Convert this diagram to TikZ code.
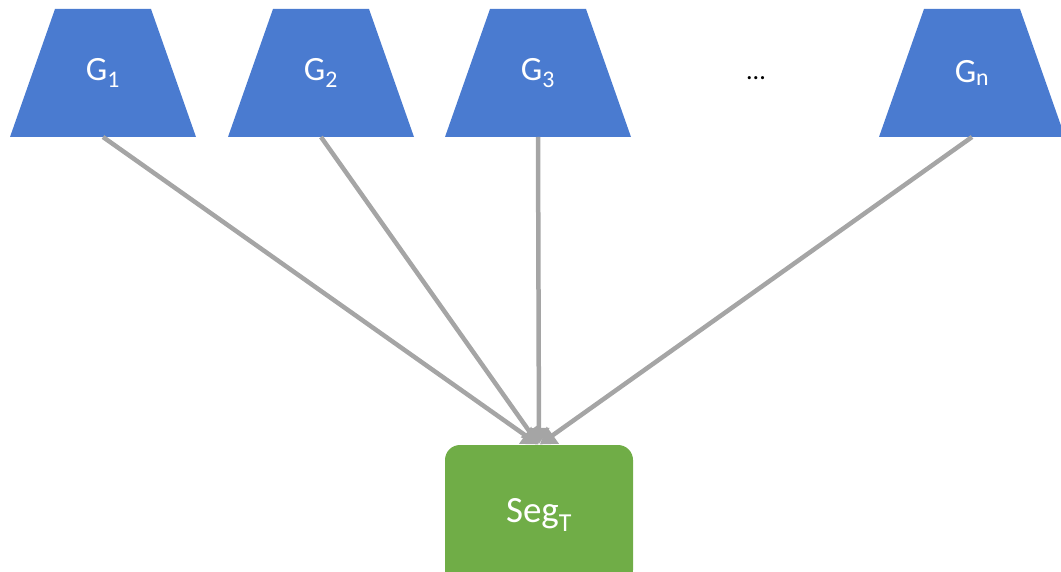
\documentclass[tikz,border=0pt]{standalone}
\usepackage{fontspec}
\setmainfont{Carlito}
\usetikzlibrary{arrows.meta}
\definecolor{genblue}{HTML}{4A7BD0}
\definecolor{seggreen}{HTML}{70AD47}
\definecolor{linkgray}{HTML}{A5A5A5}
\tikzset{
  gen/.style={rectangle, minimum width=186pt, minimum height=128pt,
    inner sep=0pt, outer sep=0pt, text=white,
    font=\fontsize{34}{40}\selectfont,
    path picture={\fill[genblue]
      (path picture bounding box.south west) --
      ([xshift=45pt]path picture bounding box.north west) --
      ([xshift=-45pt]path picture bounding box.north east) --
      (path picture bounding box.south east) -- cycle;}},
  segbox/.style={rectangle, rounded corners=15pt, fill=seggreen, text=white,
    minimum width=188pt, minimum height=140pt, inner sep=0pt, outer sep=0pt,
    font=\fontsize{37}{44}\selectfont},
  link/.style={draw=linkgray, line width=4.5pt,
    -{Triangle[length=16pt,width=20pt]}, shorten >=1pt}
}
\begin{document}
\begin{tikzpicture}[x=1pt,y=-1pt]
  \useasboundingbox (0,0) rectangle (1061,572);
  \begin{scope}
    \clip (0,0) rectangle (1061,572);
    \node[gen] (g1) at (103,73) {G\textsubscript{1}};
    \node[gen] (g2) at (321,73) {G\textsubscript{2}};
    \node[gen] (g3) at (538,73) {G\textsubscript{3}};
    \node[gen] (gn) at (972,73) {G\textsubscript{n}};
    \node[font=\fontsize{26}{30}\selectfont] (dots) at (756,78) {...};
    \node[segbox] (seg) at (539,515) {Seg\textsubscript{T}};
    \draw[link] (g1.south) -- (seg.north);
    \draw[link] (g2.south) -- (seg.north);
    \draw[link] (g3.south) -- (seg.north);
    \draw[link] (gn.south) -- (seg.north);
  \end{scope}
\end{tikzpicture}
\end{document}
